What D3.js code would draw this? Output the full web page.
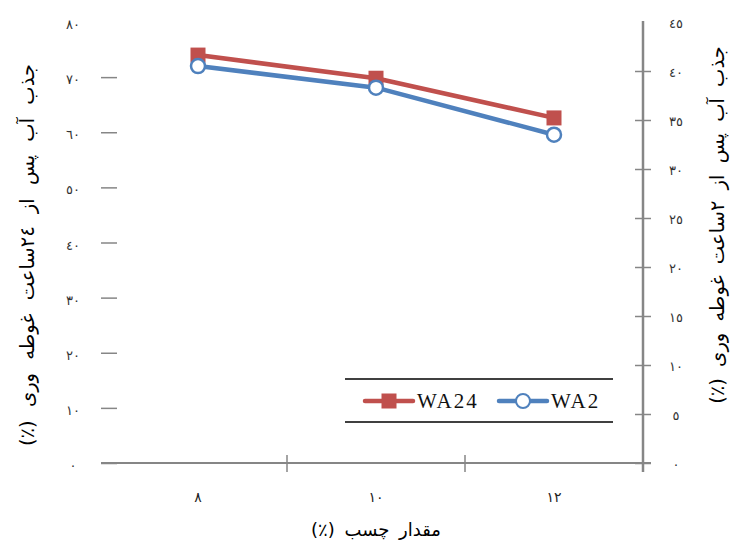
<!DOCTYPE html>
<html>
<head>
<meta charset="utf-8">
<script src="https://cdn.jsdelivr.net/npm/d3@7/dist/d3.min.js"></script>
<style>
  body { margin: 0; background: #fff; }
  svg { display: block; }
</style>
</head>
<body>
<div id="chart"></div>
<script>
// data
const categories = ['٨', '١٠', '١٢'];
const wa24 = [74.0, 69.8, 62.6];   // left axis
const wa2 = [40.5, 38.3, 33.5];    // right axis
const leftTicks = [0, 10, 20, 30, 40, 50, 60, 70, 80];
const rightTicks = [0, 5, 10, 15, 20, 25, 30, 35, 40, 45];
const seriesNames = ['WA24', 'WA2'];

const width = 733;
const height = 551;
const fa = d3.formatLocale({ decimal: '.', thousands: ',', grouping: [3], currency: ['', ''],
  numerals: ['٠', '١', '٢', '٣', '٤', '٥', '٦', '٧', '٨', '٩'] }).format('d');

const red = '#C0504D';
const blue = '#4F81BD';
const axisGray = '#868686';

const svg = d3.select('#chart').append('svg')
  .attr('width', width)
  .attr('height', height);

const x = d3.scaleBand().domain(categories).range([109, 643]);
const yL = d3.scaleLinear().domain([0, 80]).range([463, 22]);
const yR = d3.scaleLinear().domain([0, 45]).range([463, 22]);

// left axis: crossing ticks, no line
const gL = svg.append('g')
  .attr('transform', 'translate(109,0)')
  .call(d3.axisLeft(yL).tickValues(leftTicks).tickSize(8).tickPadding(28).tickFormat(fa));
gL.select('.domain').remove();
gL.selectAll('.tick line').attr('x1', 8).attr('stroke', axisGray).attr('stroke-width', 1.5)
  .filter(d => d === 80).remove();
gL.selectAll('.tick text').attr('text-anchor', 'middle').attr('dy', '0.5em')
  .style('font-family', 'DejaVu Sans').style('font-size', '13px').attr('fill', '#333');

// right axis
const gR = svg.append('g')
  .attr('transform', 'translate(643,0)')
  .call(d3.axisRight(yR).tickValues(rightTicks).tickSize(8).tickPadding(25).tickFormat(fa));
gR.select('.domain').attr('stroke', axisGray).attr('stroke-width', 2.5)
  .attr('d', 'M0,21V472');
gR.selectAll('.tick line').attr('x1', -8).attr('stroke', axisGray).attr('stroke-width', 1.5)
  .filter(d => d === 45).remove();
gR.selectAll('.tick text').attr('text-anchor', 'middle').attr('dy', '0.4em')
  .style('font-family', 'DejaVu Sans').style('font-size', '13px').attr('fill', '#333');

// x axis
svg.append('line')
  .attr('x1', 101).attr('x2', 651)
  .attr('y1', yL(0)).attr('y2', yL(0))
  .attr('stroke', axisGray).attr('stroke-width', 2);
svg.append('g').selectAll('line.xtick')
  .data(categories.slice(0, -1))
  .join('line')
    .attr('class', 'xtick')
    .attr('x1', d => x(d) + x.bandwidth()).attr('x2', d => x(d) + x.bandwidth())
    .attr('y1', yL(0) - 8).attr('y2', yL(0) + 9)
    .attr('stroke', axisGray).attr('stroke-width', 1.5);
svg.append('g').selectAll('text')
  .data(categories)
  .join('text')
    .attr('x', d => x(d) + x.bandwidth() / 2)
    .attr('y', 502)
    .attr('text-anchor', 'middle')
    .style('font-family', 'DejaVu Sans').style('font-size', '14px')
    .attr('fill', '#222')
    .text(d => d);

// titles
svg.append('text')
  .attr('x', x.range()[0] / 2 + x.range()[1] / 2).attr('y', 536)
  .attr('text-anchor', 'middle').attr('direction', 'rtl')
  .style('font-family', 'DejaVu Sans').style('font-size', '18px')
  .style('word-spacing', '4px')
  .text('مقدار چسب (٪)');
svg.append('text')
  .attr('transform', 'translate(34,255) rotate(-90)')
  .attr('text-anchor', 'middle').attr('direction', 'rtl')
  .style('font-family', 'DejaVu Sans').style('font-size', '19.5px')
  .style('word-spacing', '7px')
  .text('جذب آب پس از ٢٤ساعت غوطه وری (٪)');
svg.append('text')
  .attr('transform', 'translate(724,225) rotate(-90)')
  .attr('text-anchor', 'middle').attr('direction', 'rtl')
  .style('font-family', 'DejaVu Sans').style('font-size', '19.5px')
  .style('word-spacing', '5px')
  .text('جذب آب پس از ٢ساعت غوطه وری (٪)');

// series
const cx = (d, i) => x(categories[i]) + x.bandwidth() / 2;
const lineL = d3.line().x((d, i) => cx(d, i)).y(d => yL(d));
const lineR = d3.line().x((d, i) => cx(d, i)).y(d => yR(d));

svg.append('path').datum(wa24)
  .attr('d', lineL).attr('fill', 'none')
  .attr('stroke', red).attr('stroke-width', 4.5).attr('stroke-linejoin', 'round');
svg.append('g').selectAll('rect')
  .data(wa24)
  .join('rect')
    .attr('x', (d, i) => cx(d, i) - 7.5).attr('y', d => yL(d) - 7.5)
    .attr('width', 15).attr('height', 15)
    .attr('fill', red);

svg.append('path').datum(wa2)
  .attr('d', lineR).attr('fill', 'none')
  .attr('stroke', blue).attr('stroke-width', 4.5).attr('stroke-linejoin', 'round');
svg.append('g').selectAll('circle')
  .data(wa2)
  .join('circle')
    .attr('cx', (d, i) => cx(d, i)).attr('cy', d => yR(d))
    .attr('r', 7)
    .attr('fill', '#fff').attr('stroke', blue).attr('stroke-width', 2.5);

// legend
const legend = svg.append('g');
legend.selectAll('line.rule')
  .data([379, 422])
  .join('line')
    .attr('class', 'rule')
    .attr('x1', 345).attr('x2', 613)
    .attr('y1', d => d).attr('y2', d => d)
    .attr('stroke', '#000').attr('stroke-width', 1.5);

const items = legend.selectAll('g.item')
  .data(seriesNames)
  .join('g')
    .attr('class', 'item')
    .attr('transform', (d, i) => `translate(${365 + i * 134},401)`);
items.append('line')
  .attr('x1', 0).attr('x2', 48)
  .attr('stroke', (d, i) => i === 0 ? red : blue)
  .attr('stroke-width', 4.5).attr('stroke-linecap', 'round');
items.each(function(d, i) {
  const g = d3.select(this);
  if (i === 0) {
    g.append('rect').attr('x', 16.5).attr('y', -7.5).attr('width', 15).attr('height', 15).attr('fill', red);
  } else {
    g.append('circle').attr('cx', 24).attr('r', 7).attr('fill', '#fff').attr('stroke', blue).attr('stroke-width', 2);
  }
});
items.append('text')
  .attr('x', 52).attr('y', 7)
  .style('font-family', 'Liberation Serif').style('font-size', '21px')
  .style('letter-spacing', '2px')
  .attr('fill', '#111')
  .text(d => d);
</script>
</body>
</html>
